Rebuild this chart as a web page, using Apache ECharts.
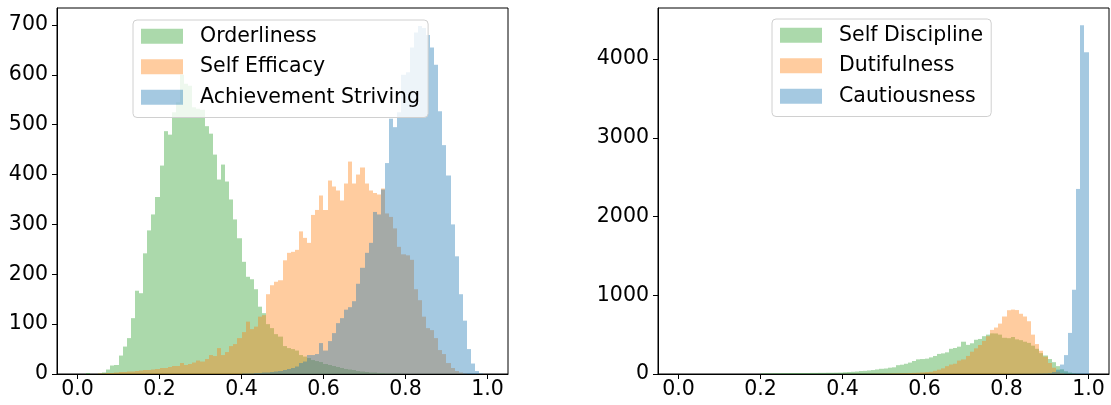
<!DOCTYPE html>
<html>
<head>
<meta charset="utf-8">
<script src="https://cdn.jsdelivr.net/npm/echarts@6/dist/echarts.min.js"></script>
<style>
html,body{margin:0;padding:0;background:#fff;}
#c{width:1111px;height:405px;}
</style>
</head>
<body>
<div id="c"></div>
<script>
// ---- data (histogram counts, 100 bins over [0,1]) ----
const binLo = 0, binHi = 1, binCount = 100;

const orderliness = [
0,0,2,0,0,1,3,9,17,18,
37,55,72,112,167,162,242,288,320,355,
418,487,480,525,545,600,582,578,535,532,
530,497,482,440,390,420,386,350,310,272,
225,195,190,170,135,122,100,92,80,75,
56,52,50,47,38,35,32,28,26,24,
20,18,16,14,12,10,9,8,6,5,
4,3,3,2,2,1,1,1,1,0,
0,0,0,0,0,0,0,0,0,0,
0,0,0,0,0,0,0,0,0,0];

const selfEfficacy = [
0,0,0,0,0,1,1,2,2,3,
4,4,5,5,6,7,8,8,9,10,
12,12,14,16,16,22,18,20,23,27,
25,30,38,36,52,38,44,56,60,72,
84,105,90,95,115,118,160,178,185,188,
228,243,245,249,286,273,263,319,329,358,
329,388,376,368,348,382,426,382,400,414,
382,368,363,360,372,322,315,292,255,240,
238,229,170,148,115,92,88,72,48,40,
22,12,6,3,1,0,0,0,0,0];

const achievementStriving = [
0,0,0,0,0,0,0,0,0,0,
0,0,0,0,0,0,0,0,0,0,
0,0,0,0,0,0,0,0,0,0,
0,0,0,0,0,0,0,0,0,0,
1,1,1,2,2,3,3,4,5,6,
8,10,12,15,22,25,38,38,40,62,
47,66,82,102,112,129,134,146,181,213,
243,263,325,320,370,423,512,495,525,600,
605,655,685,698,694,680,655,620,527,459,
398,300,236,160,107,50,21,6,1,0];

const selfDiscipline = [
0,0,0,0,0,0,0,0,0,0,
0,0,0,0,0,0,0,0,0,0,
8,9,8,10,10,11,11,12,12,13,
13,13,14,14,15,15,16,16,17,18,
22,25,28,32,38,40,45,50,58,66,
70,80,85,112,118,130,145,165,186,190,
195,211,229,255,262,275,320,330,347,410,
370,390,435,445,480,500,516,515,500,460,
455,470,440,430,410,395,360,320,265,235,
190,150,100,60,35,18,8,3,1,0];

const dutifulness = [
0,0,0,0,0,0,0,0,0,0,
0,0,0,0,0,0,0,0,0,0,
0,0,0,0,0,0,0,0,0,0,
0,0,0,0,0,0,0,0,0,0,
1,1,1,2,2,2,3,3,4,4,
5,6,7,8,9,10,12,14,16,20,
24,28,40,55,72,100,120,130,170,185,
229,283,326,368,420,480,560,590,640,730,
810,818,812,765,730,670,500,380,295,220,
140,80,30,12,4,2,1,0,0,0];

const cautiousness = [
0,0,0,0,0,0,0,0,0,0,
0,0,0,0,0,0,0,0,0,0,
0,0,0,0,0,0,0,0,0,0,
0,0,0,0,0,0,0,0,0,0,
0,0,0,0,0,0,0,0,0,0,
0,0,0,0,0,0,0,0,0,0,
0,0,0,0,0,0,0,0,0,0,
0,0,0,0,0,0,0,0,0,0,
1,1,2,2,3,3,4,5,6,8,
12,25,55,120,240,522,1070,2350,4430,4085];

const xTicks = [0.0, 0.2, 0.4, 0.6, 0.8, 1.0];
const leftYTicks = [0, 100, 200, 300, 400, 500, 600, 700];
const rightYTicks = [0, 1000, 2000, 3000, 4000];

const leftNames = ['Orderliness', 'Self Efficacy', 'Achievement Striving'];
const rightNames = ['Self Discipline', 'Dutifulness', 'Cautiousness'];

// ---- chart ----
const GREEN = 'rgba(44,160,44,0.4)';
const ORANGE = 'rgba(255,127,14,0.4)';
const BLUE = 'rgba(31,119,180,0.4)';
const FONT = 'DejaVu Sans';
const FS = 20.5;

function toBins(counts) {
  const w = (binHi - binLo) / binCount;
  return counts.map((c, i) => [binLo + i * w, binLo + (i + 1) * w, c]);
}

function histSeries(name, counts, color, idx) {
  return {
    type: 'custom',
    name: name,
    xAxisIndex: idx,
    yAxisIndex: idx,
    clip: true,
    itemStyle: { color: color },
    encode: { x: [0, 1], y: 2 },
    data: toBins(counts),
    renderItem: function (params, api) {
      const v = api.value(2);
      if (!v) return null;
      const p0 = api.coord([api.value(0), 0]);
      const p1 = api.coord([api.value(1), v]);
      const x0 = Math.round(p0[0]), x1 = Math.round(p1[0]);
      return {
        type: 'rect',
        shape: { x: x0, y: p1[1], width: x1 - x0, height: p0[1] - p1[1] },
        style: { fill: color }
      };
    }
  };
}

function xAxis(idx) {
  return {
    type: 'value', gridIndex: idx, min: -0.05, max: 1.05,
    splitLine: { show: false },
    axisLine: { show: true, onZero: false, lineStyle: { color: '#000', width: 1 } },
    axisTick: { show: true, customValues: xTicks, length: 5, lineStyle: { color: '#000' } },
    axisLabel: { customValues: xTicks, formatter: v => v.toFixed(1), fontSize: FS, fontFamily: FONT, color: '#000', margin: 5 }
  };
}
function yAxis(idx, max, ticks) {
  return {
    type: 'value', gridIndex: idx, min: 0, max: max,
    splitLine: { show: false },
    axisLine: { show: true, onZero: false, lineStyle: { color: '#000', width: 1 } },
    axisTick: { show: true, customValues: ticks, length: 5, lineStyle: { color: '#000' } },
    axisLabel: { customValues: ticks, formatter: v => String(v), fontSize: FS, fontFamily: FONT, color: '#000', margin: 9 }
  };
}
function legend(names, colors, left, top) {
  return {
    orient: 'vertical', left: left, top: top,
    selectedMode: false,
    icon: 'rect', itemWidth: 42, itemHeight: 15, itemGap: 8,
    padding: [5, 8, 9, 8],
    backgroundColor: 'rgba(255,255,255,0.8)',
    borderColor: '#d0d0d0', borderWidth: 1, borderRadius: 4,
    textStyle: { fontSize: FS, fontFamily: FONT, color: '#000', lineHeight: 22.5, padding: [0, 0, 0, 12] },
    data: names.map((n, i) => ({ name: n, itemStyle: { color: colors[i] } }))
  };
}

const chart = echarts.init(document.getElementById('c'), null, { renderer: 'canvas' });
chart.setOption({
  animation: false,
  backgroundColor: '#fff',
  grid: [
    { left: 57, top: 8, width: 451, height: 366, show: true, borderColor: '#000', borderWidth: 1 },
    { left: 658, top: 8, width: 451, height: 366, show: true, borderColor: '#000', borderWidth: 1 }
  ],
  xAxis: [xAxis(0), xAxis(1)],
  yAxis: [yAxis(0, 734, leftYTicks), yAxis(1, 4648, rightYTicks)],
  legend: [
    legend(leftNames, [GREEN, ORANGE, BLUE], 133, 20),
    legend(rightNames, [GREEN, ORANGE, BLUE], 772, 19)
  ],
  series: [
    histSeries(leftNames[0], orderliness, GREEN, 0),
    histSeries(leftNames[1], selfEfficacy, ORANGE, 0),
    histSeries(leftNames[2], achievementStriving, BLUE, 0),
    histSeries(rightNames[0], selfDiscipline, GREEN, 1),
    histSeries(rightNames[1], dutifulness, ORANGE, 1),
    histSeries(rightNames[2], cautiousness, BLUE, 1)
  ]
});
</script>
</body>
</html>
